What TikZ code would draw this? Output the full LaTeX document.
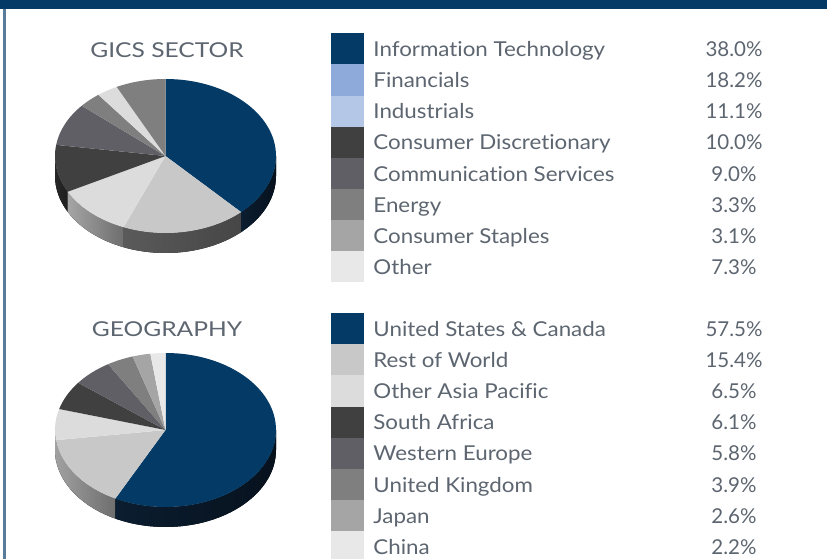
\documentclass[tikz,border=0pt]{standalone}
\usepackage{fontspec}
\setmainfont{Lato}[Ligatures=NoCommon]
\newfontfamily\lblfont{Lato}[Ligatures=NoCommon, FakeStretch=1.09]
\newfontfamily\ttlfont{Lato}[Ligatures=NoCommon, FakeStretch=1.2]
\usepackage{tikz}
\usetikzlibrary{positioning,calc}

\definecolor{navy}{HTML}{033A66}
\definecolor{navyside}{HTML}{0B1D30}
\definecolor{edgeblue}{HTML}{5B7B9B}
\definecolor{txtgray}{HTML}{5D6670}
\definecolor{finblue}{HTML}{8EAADB}
\definecolor{indblue}{HTML}{B4C7E7}
\definecolor{gA}{HTML}{404040}
\definecolor{gB}{HTML}{5F5F65}
\definecolor{gC}{HTML}{7F7F7F}
\definecolor{gD}{HTML}{A5A5A5}
\definecolor{gE}{HTML}{E8E8E8}
\definecolor{gF}{HTML}{C8C8C8}
\definecolor{gG}{HTML}{DCDCDC}

\begin{document}
\begin{tikzpicture}[x=1pt,y=1pt,
    every node/.style={font=\fontsize{20.5}{24}\selectfont, text=txtgray},
    swatch/.style={minimum width=33pt, minimum height=31.1pt, inner sep=0pt},
    lbl/.style={inner sep=0pt, text height=19pt, text depth=3.4pt},
    title/.style={inner sep=0pt, font=\fontsize{20.5}{24}\ttlfont}]
    \clip (0,0) rectangle (827,559);
    \fill[white] (0,0) rectangle (827,559);
    % frame
    \fill[navy] (0,550) rectangle (827,559);
    \fill[edgeblue] (3.3,0) rectangle (5.8,550);

    % gics sector pie
    \coordinate (c1) at (165.5,403);
    \foreach \a/\b/\lc/\rc in {180/207.7/gA!60!black/gA!50!black,
                               207.7/247.7/gG!75!black/gG!50!black,
                               247.7/313.2/gF!45!black/gF!35!black,
                               313.2/360/navyside/navyside!60!black}
        \fill[left color=\lc, right color=\rc] ($(c1)+(\a:110.5pt and 77pt)$)
            arc[start angle=\a, end angle=\b, x radius=110.5pt, y radius=77pt]
            -- ++(0,-20) arc[start angle=\b, end angle=\a, x radius=110.5pt, y radius=77pt] -- cycle;
    \foreach \a/\b/\col in {90/-46.8/navy, -46.8/-112.3/gF, -112.3/-152.3/gG,
                            -152.3/-188.3/gA, 171.7/139.3/gB, 139.3/127.4/gC,
                            127.4/116.2/gE!95!black, 116.2/90/gC}
        \fill[\col] (c1) -- ($(c1)+(\a:110.5pt and 77pt)$)
            arc[start angle=\a, end angle=\b, x radius=110.5pt, y radius=77pt] -- cycle;

    % geography pie
    \coordinate (c2) at (165.5,129);
    \foreach \a/\b/\lc/\rc in {180/187.6/gG!85!black/gG!80!black,
                               187.6/243/gF!80!black/gF!55!black,
                               243/360/navyside/navyside!60!black}
        \fill[left color=\lc, right color=\rc] ($(c2)+(\a:110.5pt and 77pt)$)
            arc[start angle=\a, end angle=\b, x radius=110.5pt, y radius=77pt]
            -- ++(0,-20) arc[start angle=\b, end angle=\a, x radius=110.5pt, y radius=77pt] -- cycle;
    \foreach \a/\b/\col in {90/-117/navy, -117/-172.4/gF, 187.6/164.2/gG,
                            164.2/142.2/gA, 142.2/121.3/gB, 121.3/107.3/gC,
                            107.3/97.9/gD, 97.9/90/gE}
        \fill[\col] (c2) -- ($(c2)+(\a:110.5pt and 77pt)$)
            arc[start angle=\a, end angle=\b, x radius=110.5pt, y radius=77pt] -- cycle;

    % titles
    \node[title] (gics) at (167,508.5) {GICS SECTOR};
    \node[title] (geo) at (167,229.5) {GEOGRAPHY};

    % sector legend
    \foreach \i/\col/\name/\pct in {1/navy/Information Technology/38.0\%,
                                    2/finblue/Financials/18.2\%,
                                    3/indblue/Industrials/11.1\%,
                                    4/gA/Consumer Discretionary/10.0\%,
                                    5/gB/Communication Services/9.0\%,
                                    6/gC/Energy/3.3\%,
                                    7/gD/Consumer Staples/3.1\%,
                                    8/gE/Other/7.3\%} {
        \node[swatch, fill=\col] (sw\i) at (347.5,{541.2-31.1*\i}) {};
        \node[lbl, right=9pt of sw\i] (s\i) {\lblfont\name};
        \node[lbl] (sp\i) at (734,{541.2-31.1*\i}) {\pct};
    }

    % geography legend
    \foreach \i/\col/\name/\pct in {1/navy/United States \& Canada/57.5\%,
                                    2/gF/Rest of World/15.4\%,
                                    3/gG/Other Asia Pacific/6.5\%,
                                    4/gA/South Africa/6.1\%,
                                    5/gB/Western Europe/5.8\%,
                                    6/gC/United Kingdom/3.9\%,
                                    7/gD/Japan/2.6\%,
                                    8/gE/China/2.2\%} {
        \node[swatch, fill=\col] (gw\i) at (347.5,{261.3-31.1*\i}) {};
        \node[lbl, right=9pt of gw\i] (g\i) {\lblfont\name};
        \node[lbl] (gp\i) at (734,{261.3-31.1*\i}) {\pct};
    }
\end{tikzpicture}
\end{document}
